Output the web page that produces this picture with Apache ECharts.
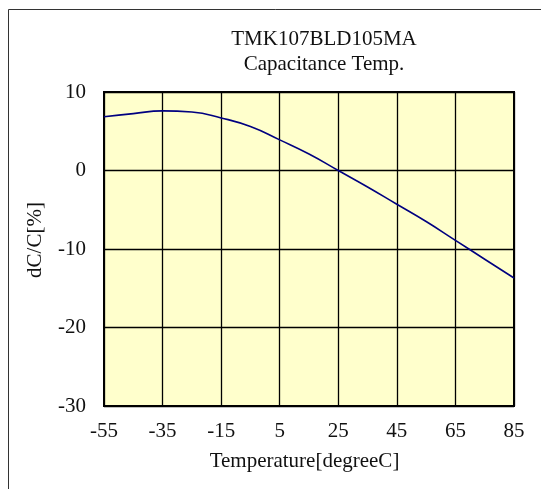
<!DOCTYPE html>
<html>
<head>
<meta charset="utf-8">
<script src="https://cdn.jsdelivr.net/npm/echarts@6/dist/echarts.min.js"></script>
<style>
  html, body { margin: 0; padding: 0; background: #fff; }
  #chart { width: 541px; height: 489px; }
</style>
</head>
<body>
<div id="chart"></div>
<script>
// 温度 (degreeC)
var temps = [-55, -45, -35, -25, -15, -5, 5, 15, 25, 35, 45, 55, 65, 75, 85];
// dC/C [%]
var dcValues = [6.85, 7.25, 7.6, 7.45, 6.7, 5.6, 3.9, 2.1, 0, -2.1, -4.3, -6.5, -8.9, -11.3, -13.7];
var titleLines = ['TMK107BLD105MA', 'Capacitance Temp.'];
var xName = 'Temperature[degreeC]';
var yName = 'dC/C[%]';

var serif = '"Liberation Serif", "DejaVu Serif", serif';

var chart = echarts.init(document.getElementById('chart'));
var option = {
    animation: false,
    backgroundColor: '#fff',
    title: {
        text: titleLines.join('\n'),
        left: 319,
        top: 22,
        textAlign: 'center',
        textStyle: {
            fontFamily: serif,
            fontSize: 21,
            fontWeight: 'normal',
            color: '#111',
            lineHeight: 25
        }
    },
    grid: {
        left: 104,
        right: 27,
        top: 92,
        bottom: 83,
        outerBoundsMode: 'none',
        show: true,
        backgroundColor: '#ffffcc',
        borderColor: '#000',
        borderWidth: 2
    },
    xAxis: {
        type: 'value',
        min: -55,
        max: 85,
        interval: 20,
        name: xName,
        nameLocation: 'middle',
        nameGap: 45,
        nameTextStyle: { fontFamily: serif, fontSize: 21, color: '#111', padding: [0, 9, 0, 0] },
        axisLine: { show: false },
        axisTick: { show: false },
        axisLabel: { fontFamily: serif, fontSize: 21, color: '#111', margin: 15 },
        splitLine: { show: true, lineStyle: { color: '#000', width: 1.3 } }
    },
    yAxis: {
        type: 'value',
        min: -30,
        max: 10,
        interval: 10,
        axisLine: { show: false },
        axisTick: { show: false },
        axisLabel: { fontFamily: serif, fontSize: 21, color: '#111', margin: 18 },
        splitLine: { show: true, lineStyle: { color: '#000', width: 1.3 } }
    },
    graphic: [
        {
            type: 'rect',
            shape: { x: 8.5, y: 9.5, width: 540, height: 490 },
            style: { fill: 'none', stroke: '#333', lineWidth: 1 }
        },
        {
            type: 'text',
            x: 35.5,
            y: 240,
            rotation: Math.PI / 2,
            style: {
                text: yName,
                font: '21px ' + serif,
                fill: '#111',
                align: 'center',
                verticalAlign: 'middle'
            }
        }
    ],
    series: [{
        type: 'line',
        smooth: true,
        symbol: 'none',
        data: temps.map(function (t, i) { return [t, dcValues[i]]; }),
        lineStyle: { color: '#000080', width: 1.6 }
    }]
};
chart.setOption(option);
</script>
</body>
</html>
